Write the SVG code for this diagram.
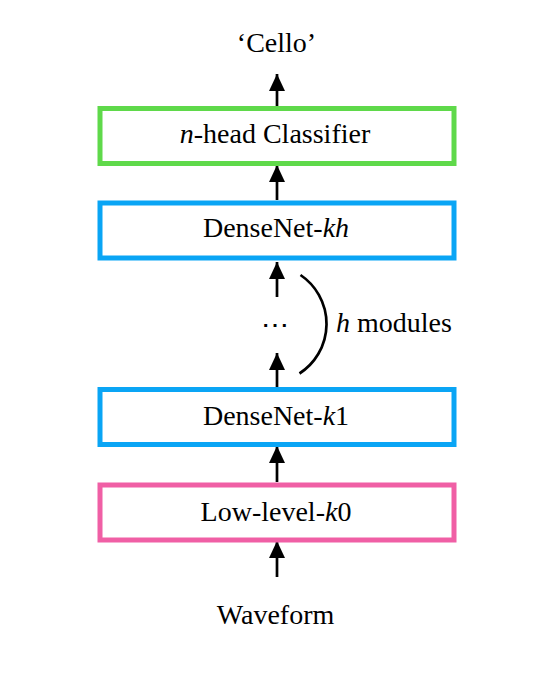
<svg xmlns="http://www.w3.org/2000/svg" width="546" height="682" viewBox="0 0 546 682">
<defs>
<style>
.box{fill:#ffffff;stroke-width:5}
.t{font-family:"Liberation Serif","Times New Roman",serif;font-size:28px;fill:#000;text-anchor:middle}
.i{font-style:italic}
.c{stroke:#000;stroke-width:2.7;fill:none}
</style>
<marker id="ah" markerUnits="userSpaceOnUse" markerWidth="18" markerHeight="18" viewBox="0 0 18 18" refX="17" refY="9" orient="auto">
<path d="M0,1 L17,9 L0,17 z" fill="#000"/>
</marker>
</defs>
<rect width="546" height="682" fill="#ffffff"/>
<g id="connectors">
<path class="c" d="M277,106 L277,74" marker-end="url(#ah)"/>
<path class="c" d="M277,200 L277,165" marker-end="url(#ah)"/>
<path class="c" d="M277,297 L277,262" marker-end="url(#ah)"/>
<path class="c" d="M277,387 L277,353" marker-end="url(#ah)"/>
<path class="c" d="M277,482 L277,446" marker-end="url(#ah)"/>
<path class="c" d="M277,577 L277,541" marker-end="url(#ah)"/>
<path class="c" d="M300.5,275 A59 59 0 0 1 299.5,373.5"/>
</g>
<g id="output"><text class="t" x="276.5" y="52">‘Cello’</text></g>
<g id="classifier">
<rect class="box" x="100" y="108.5" width="354" height="55" stroke="#5fd94a"/>
<text class="t" x="275" y="143"><tspan class="i">n</tspan>-head Classifier</text>
</g>
<g id="densenet-kh">
<rect class="box" x="100" y="203" width="354" height="55" stroke="#0aa5f5"/>
<text class="t" x="276" y="237">DenseNet-<tspan class="i">kh</tspan></text>
</g>
<g id="ellipsis"><text class="t" x="275" y="334">⋯</text></g>
<g id="h-modules"><text class="t" x="336" y="332" style="text-anchor:start"><tspan class="i">h</tspan> modules</text></g>
<g id="densenet-k1">
<rect class="box" x="100" y="389.5" width="354" height="55" stroke="#0aa5f5"/>
<text class="t" x="276" y="425">DenseNet-<tspan class="i">k</tspan>1</text>
</g>
<g id="low-level">
<rect class="box" x="100" y="485" width="354" height="55" stroke="#f05fa5"/>
<text class="t" x="276" y="521">Low-level-<tspan class="i">k</tspan>0</text>
</g>
<g id="waveform"><text class="t" x="275.5" y="624">Waveform</text></g>
</svg>
